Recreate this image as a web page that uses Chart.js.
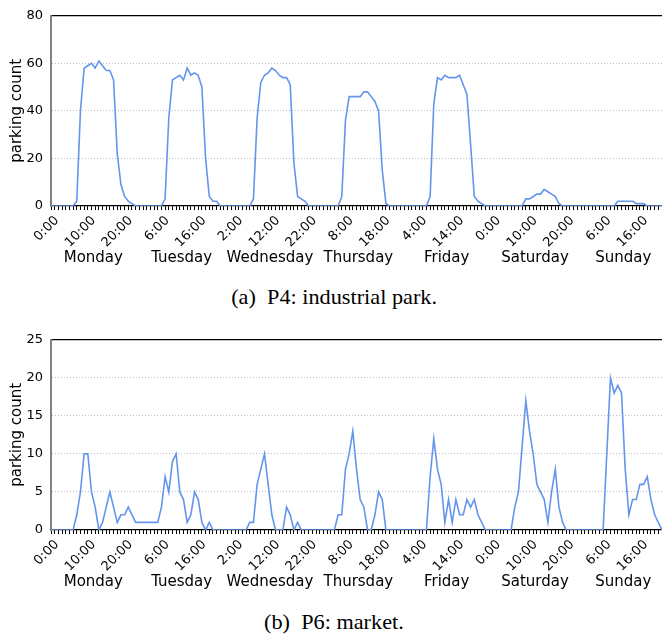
<!DOCTYPE html>
<html><head><meta charset="utf-8">
<script src="https://cdn.jsdelivr.net/npm/chart.js@4/dist/chart.umd.min.js"></script>
<style>
html,body{margin:0;padding:0;background:#fff;width:662px;height:637px;overflow:hidden;}
#wrap{position:relative;width:662px;height:637px;}
canvas{position:absolute;left:0;display:block;}
.cap{position:absolute;left:3px;width:662px;text-align:center;font-family:"Liberation Serif",serif;font-size:21px;line-height:20px;color:#000;white-space:pre;}
.cap span{display:inline-block;transform:scaleX(1.06);transform-origin:center;}
</style></head><body>
<div id="wrap">
<canvas id="c1" width="662" height="270" style="top:0px"></canvas>
<div class="cap" style="top:287px"><span>(a)  P4: industrial park.</span></div>
<canvas id="c2" width="662" height="270" style="top:324px"></canvas>
<div class="cap" style="top:612px"><span>(b)  P6: market.</span></div>
</div>
<script>
const dayNames = ["Monday","Tuesday","Wednesday","Thursday","Friday","Saturday","Sunday"];
const hours = Array.from({length:168}, (_, i) => i);

const p4Counts = [
  0,0,0,0,0,0,0,2,40,58,59,60,58,61,59,57,57,53,22,9,4,2,1,0,
  0,0,0,0,0,0,0,3,37,53,54,55,53,58,55,56,55,50,20,4,2,2,0,0,
  0,0,0,0,0,0,0,3,37,52,55,56,58,57,55,54,54,51,18,4,3,2,0,0,
  0,0,0,0,0,0,0,4,36,46,46,46,46,48,48,46,44,40,15,1,0,0,0,0,
  0,0,0,0,0,0,0,4,43,54,53,55,54,54,54,55,51,47,26,4,2,1,0,0,
  0,0,0,0,0,0,0,0,0,3,3,4,5,5,7,6,5,4,1,0,0,0,0,0,
  0,0,0,0,0,0,0,0,0,0,2,2,2,2,2,1,1,1,0,0,0,0,0,0
];
const p6Counts = [
  0,0,0,0,0,0,0,2,5,10,10,5,3,0,1,3,5,3,1,2,2,3,2,1,
  1,1,1,1,1,1,3,7,5,9,10,5,4,1,2,5,4,1,0,1,0,0,0,0,
  0,0,0,0,0,0,1,1,6,8,10,6,2,0,0,0,3,2,0,1,0,0,0,0,
  0,0,0,0,0,0,2,2,8,10,13,8,4,3,0,0,2,5,4,0,0,0,0,0,
  0,0,0,0,0,0,0,7,12,8,6,1,4,1,4,2,2,4,3,4,2,1,0,0,
  0,0,0,0,0,0,3,5,11,17,13,10,6,5,4,1,5,8,3,1,0,0,0,0,
  0,0,0,0,0,0,0,10,20,18,19,18,8,2,4,4,6,6,7,4,2,1,0,0
];
const p4YTicks = [0,20,40,60,80];
const p6YTicks = [0,5,10,15,20,25];
const xLabelEvery = 10;
const xMax = 166;

const FONT = "DejaVu Sans";

function noPad(s) { s.paddingLeft = 0; s.paddingRight = 0; }

function makeChart(id, counts, yTicks) {
  const yMax = yTicks[yTicks.length - 1];
  return new Chart(document.getElementById(id), {
    type: 'line',
    data: {
      datasets: [{
        data: counts.map((v, i) => ({x: hours[i], y: v})),
        borderColor: '#6495ED',
        borderWidth: 1.6,
        pointRadius: 0,
        fill: false,
        tension: 0,
        xAxisID: 'x',
        yAxisID: 'y'
      }]
    },
    options: {
      responsive: false,
      animation: false,
      events: [],
      layout: {padding: {top: 10, left: 0, right: 0, bottom: 0}},
      plugins: {legend: {display: false}, tooltip: {enabled: false}},
      scales: {
        x: {
          type: 'linear', position: 'bottom', min: 0, max: xMax,
          afterBuildTicks: s => { s.ticks = hours.filter(h => h <= xMax).map(h => ({value: h})); },
          afterFit: s => { s.height = 42; noPad(s); },
          ticks: {
            autoSkip: false, minRotation: 45, maxRotation: 45, padding: 3, labelOffset: 6,
            color: '#000', font: {family: FONT, size: 13},
            callback: v => (v % xLabelEvery === 0) ? (v % 24) + ':00' : ''
          },
          grid: {drawOnChartArea: false, drawTicks: true, tickLength: 4, tickColor: '#000', tickWidth: 1},
          border: {color: '#000', width: 1.2}
        },
        days: {
          type: 'linear', position: 'bottom', weight: 1, min: 0, max: xMax,
          afterBuildTicks: s => { s.ticks = dayNames.map((d, i) => ({value: i * 24 + 11.5})); },
          afterFit: s => { s.height = 22; noPad(s); },
          ticks: {
            autoSkip: false, minRotation: 0, maxRotation: 0, padding: 1,
            color: '#000', font: {family: FONT, size: 15},
            callback: (v, i) => dayNames[i]
          },
          grid: {display: false, drawTicks: false},
          border: {display: false}
        },
        xTop: {
          type: 'linear', position: 'top', min: 0, max: xMax, display: true,
          afterFit: s => { s.height = 0; noPad(s); },
          ticks: {display: false},
          grid: {display: false, drawTicks: false},
          border: {color: '#000', width: 1.2}
        },
        y: {
          type: 'linear', position: 'left', min: 0, max: yMax,
          afterBuildTicks: s => { s.ticks = yTicks.map(v => ({value: v})); },
          afterFit: s => { s.width = 51; },
          ticks: {padding: 8, color: '#000', font: {family: FONT, size: 13}},
          grid: {
            drawTicks: false, lineWidth: 1,
            color: c => (c.tick && (c.tick.value === 0 || c.tick.value === yMax)) ? 'rgba(0,0,0,0)' : '#bdbdbd'
          },
          border: {color: '#808080', width: 2, dash: [1, 2]},
          title: {display: true, text: 'parking count', color: '#000', font: {family: FONT, size: 15}, padding: {top: 8, bottom: 0}}
        }
      }
    }
  });
}

makeChart('c1', p4Counts, p4YTicks);
makeChart('c2', p6Counts, p6YTicks);
</script>
</body></html>
